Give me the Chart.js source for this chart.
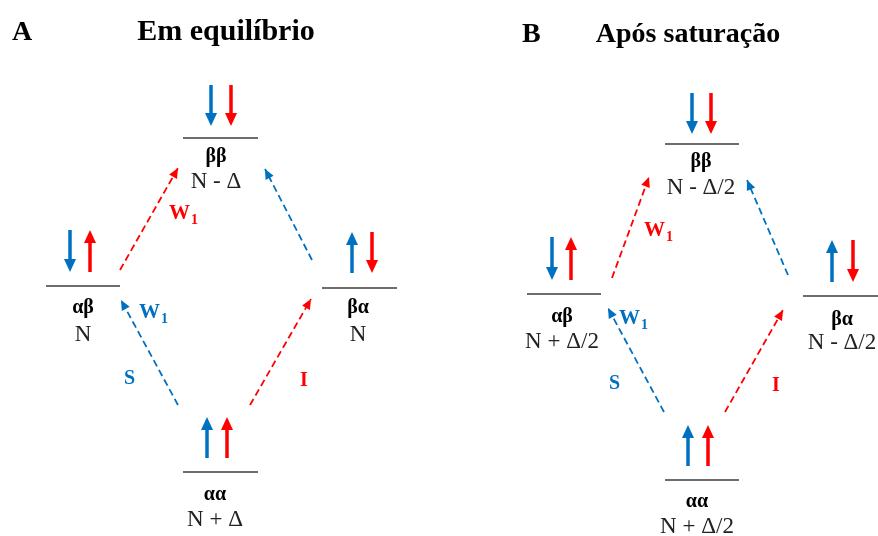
<!DOCTYPE html>
<html><head><meta charset="utf-8">
<script src="https://cdn.jsdelivr.net/npm/chart.js@4"></script>
<style>html,body{margin:0;padding:0;background:#fff;}canvas{display:block;}</style>
</head><body>
<canvas id="c" width="878" height="536"></canvas>
<script>
// ---- data ----
const panelLetters = ['A', 'B'];
const panelTitles = ['Em equilíbrio', 'Após saturação'];
const letterX = [12, 522];
const titleX = [226, 688];
const titleY = [40, 42];

const stateNames = ['ββ', 'αβ', 'βα', 'αα', 'ββ', 'αβ', 'βα', 'αα'];
const populations = ['N - Δ', 'N', 'N', 'N + Δ', 'N - Δ/2', 'N + Δ/2', 'N - Δ/2', 'N + Δ/2'];
const levelLeft = [183, 46, 322, 183, 665, 527, 803, 665];
const levelRight = [258, 120, 397, 258, 739, 601, 878, 739];
const levelY = [138, 286, 288, 472, 144, 294, 296, 480];
const labelX = [216, 83, 358, 215, 701, 562, 842, 697];
const nameY = [157, 308, 308, 495, 162, 317, 320, 502];
const popY = [182, 335, 335, 520, 188, 342, 343, 527];

const spinSX = [211, 70, 352, 207, 692, 552, 832, 688];
const spinIX = [231, 90, 372, 227, 711, 571, 853, 708];
const spinTop = [85, 230, 232, 417, 93, 237, 240, 425];
const spinBottom = [126, 272, 273, 458, 134, 280, 282, 466];
const spinSDir = ['down', 'down', 'up', 'up', 'down', 'down', 'up', 'up'];
const spinIDir = ['down', 'up', 'down', 'up', 'down', 'up', 'down', 'up'];

const transNucleus = ['I', 'S', 'S', 'I', 'I', 'S', 'S', 'I'];
const transFromX = [120, 312, 178, 250, 612, 788, 664, 725];
const transFromY = [270, 260, 405, 405, 278, 275, 412, 412];
const transToX = [178, 265, 121, 311, 649, 747, 608, 783];
const transToY = [168, 169, 300, 299, 177, 180, 308, 310];

const rateText = ['W', 'W', 'S', 'I', 'W', 'W', 'S', 'I'];
const rateSub = ['1', '1', '', '', '1', '1', '', ''];
const rateNucleus = ['I', 'S', 'S', 'I', 'I', 'S', 'S', 'I'];
const rateX = [169, 139, 124, 300, 644, 619, 609, 772];
const rateY = [219, 318, 384, 386, 236, 324, 389, 391];

// ---- styles ----
const COLORS = { I: '#FF0000', S: '#0070C0' };
const SERIF = '"Liberation Serif", "Times New Roman", serif';
const TITLE_SIZE = [30, 28];

const datasets = [];
levelY.forEach((y, i) => {
  datasets.push({ kind: 'level', showLine: true, data: [{ x: levelLeft[i], y }, { x: levelRight[i], y }],
    borderColor: '#3c3c3c', borderWidth: 1.5, pointRadius: 0 });
});
function spinPoints(x, dir, i) {
  return dir === 'down' ? [{ x, y: spinTop[i] }, { x, y: spinBottom[i] }] : [{ x, y: spinBottom[i] }, { x, y: spinTop[i] }];
}
levelY.forEach((y, i) => {
  datasets.push({ kind: 'spin', color: COLORS.S, data: spinPoints(spinSX[i], spinSDir[i], i), pointRadius: 0, showLine: false });
  datasets.push({ kind: 'spin', color: COLORS.I, data: spinPoints(spinIX[i], spinIDir[i], i), pointRadius: 0, showLine: false });
});
transNucleus.forEach((n, i) => {
  datasets.push({ kind: 'trans', color: COLORS[n], showLine: true,
    data: [{ x: transFromX[i], y: transFromY[i] }, { x: transToX[i], y: transToY[i] }],
    borderColor: COLORS[n], borderWidth: 1.8, borderDash: [7, 4], pointRadius: 0 });
});

function head(ctx, x0, y0, x1, y1, L, W, color) {
  const a = Math.atan2(y1 - y0, x1 - x0);
  ctx.save();
  ctx.translate(x1, y1);
  ctx.rotate(a);
  ctx.beginPath();
  ctx.moveTo(0, 0);
  ctx.lineTo(-L, W / 2);
  ctx.lineTo(-L, -W / 2);
  ctx.closePath();
  ctx.fillStyle = color;
  ctx.fill();
  ctx.restore();
}

const arrowPlugin = {
  id: 'arrows',
  afterDatasetsDraw(chart) {
    const ctx = chart.ctx;
    chart.data.datasets.forEach((ds, i) => {
      const meta = chart.getDatasetMeta(i);
      if (!meta.data || meta.data.length < 2) return;
      const p0 = meta.data[0], p1 = meta.data[1];
      if (ds.kind === 'spin') {
        const L = 13, W = 12;
        const len = Math.hypot(p1.x - p0.x, p1.y - p0.y);
        const ux = (p1.x - p0.x) / len, uy = (p1.y - p0.y) / len;
        ctx.save();
        ctx.strokeStyle = ds.color;
        ctx.lineWidth = 3.5;
        ctx.lineCap = 'butt';
        ctx.beginPath();
        ctx.moveTo(p0.x, p0.y);
        ctx.lineTo(p1.x - ux * (L - 1), p1.y - uy * (L - 1));
        ctx.stroke();
        ctx.restore();
        head(ctx, p0.x, p0.y, p1.x, p1.y, L, W, ds.color);
      } else if (ds.kind === 'trans') {
        head(ctx, p0.x, p0.y, p1.x, p1.y, 10, 9, ds.color);
      }
    });
  }
};

const textPlugin = {
  id: 'texts',
  afterDraw(chart) {
    const ctx = chart.ctx;
    const X = v => chart.scales.x.getPixelForValue(v);
    const Y = v => chart.scales.y.getPixelForValue(v);
    ctx.save();
    ctx.fillStyle = '#000';
    ctx.textBaseline = 'alphabetic';
    panelLetters.forEach((t, i) => {
      ctx.font = 'bold 28px ' + SERIF;
      ctx.textAlign = 'left';
      ctx.fillText(t, X(letterX[i]), Y(titleY[i]));
      ctx.font = 'bold ' + TITLE_SIZE[i] + 'px ' + SERIF;
      ctx.textAlign = 'center';
      ctx.fillText(panelTitles[i], X(titleX[i]), Y(titleY[i]));
    });
    ctx.textBaseline = 'middle';
    ctx.textAlign = 'center';
    stateNames.forEach((t, i) => {
      ctx.fillStyle = '#000';
      ctx.font = 'bold 20px ' + SERIF;
      ctx.fillText(t, X(labelX[i]), Y(nameY[i]));
      ctx.fillStyle = '#222';
      ctx.font = '23px ' + SERIF;
      ctx.fillText(populations[i], X(labelX[i]), Y(popY[i]));
    });
    ctx.textBaseline = 'alphabetic';
    ctx.textAlign = 'left';
    rateText.forEach((t, i) => {
      ctx.fillStyle = COLORS[rateNucleus[i]];
      const big = rateSub[i] ? 21 : 20;
      ctx.font = 'bold ' + big + 'px ' + SERIF;
      const x = X(rateX[i]), y = Y(rateY[i]);
      ctx.fillText(t, x, y);
      if (rateSub[i]) {
        const w = ctx.measureText(t).width;
        ctx.font = 'bold 14px ' + SERIF;
        ctx.fillText(rateSub[i], x + w + 1, y + 5);
      }
    });
    ctx.restore();
  }
};

new Chart(document.getElementById('c'), {
  type: 'scatter',
  data: { datasets },
  options: {
    responsive: false,
    animation: false,
    devicePixelRatio: 1,
    events: [],
    layout: { padding: 0 },
    plugins: { legend: { display: false }, tooltip: { enabled: false } },
    scales: {
      x: { type: 'linear', min: 0, max: 878, display: false },
      y: { type: 'linear', min: 0, max: 536, reverse: true, display: false }
    }
  },
  plugins: [arrowPlugin, textPlugin]
});
</script>
</body></html>
